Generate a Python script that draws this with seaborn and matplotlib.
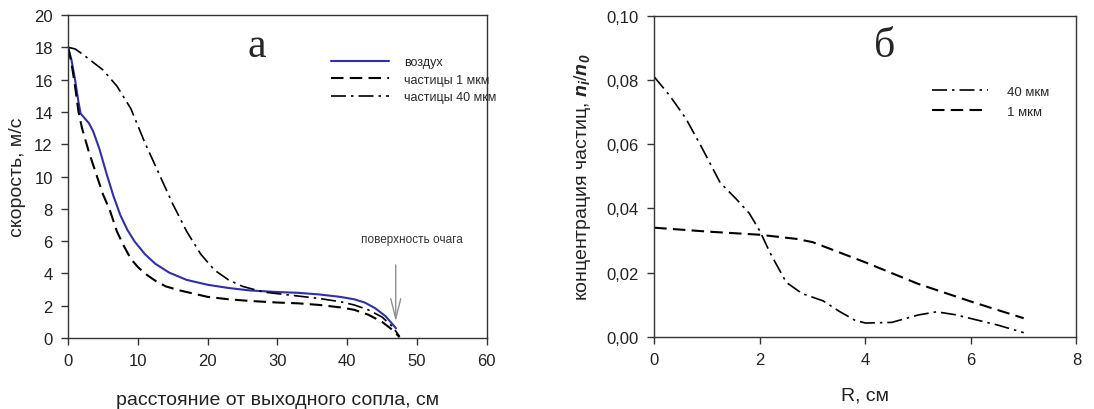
import matplotlib
matplotlib.use("Agg")
import matplotlib.pyplot as plt
import seaborn as sns
import pandas as pd

# Panel a: velocity along the jet axis
dist_air = [0, 0.5, 1.0, 1.5, 1.8, 2.4, 3.0, 3.6, 4.5, 5.5, 6.5, 7.5, 8.5, 9.5, 11, 12.5, 14.5, 17, 20, 23, 26, 30, 33, 36, 39, 41, 42.5, 44, 45.5, 47]
vel_air = [18, 17.2, 16.0, 14.6, 13.9, 13.6, 13.3, 12.8, 11.7, 10.2, 8.8, 7.6, 6.7, 6.0, 5.2, 4.6, 4.05, 3.6, 3.3, 3.1, 2.95, 2.85, 2.8, 2.7, 2.55, 2.4, 2.2, 1.85, 1.35, 0.6]

dist_fine = [0, 0.5, 1.0, 1.5, 2.0, 3.0, 4.0, 5.0, 6.0, 7.0, 8.0, 9.0, 10, 11, 12.5, 14, 16, 18, 20, 23, 26, 30, 33, 36, 39, 41, 43, 45, 46.5, 47.5]
vel_fine = [18, 17.0, 15.6, 14.0, 13.0, 11.5, 10.2, 8.9, 7.9, 6.6, 5.7, 4.9, 4.4, 4.0, 3.55, 3.2, 2.95, 2.75, 2.55, 2.4, 2.3, 2.2, 2.15, 2.05, 1.9, 1.75, 1.45, 1.0, 0.5, 0.05]

dist_coarse = [0, 1, 2, 3.5, 5, 7, 9, 11, 13, 15, 17, 19, 21, 23, 25, 28, 30, 33, 36, 39, 41, 43, 45, 46.5, 47.5]
vel_coarse = [18, 17.9, 17.6, 17.1, 16.6, 15.6, 14.2, 12.1, 10.2, 8.3, 6.6, 5.2, 4.2, 3.6, 3.2, 2.85, 2.75, 2.6, 2.45, 2.25, 2.05, 1.75, 1.3, 0.7, 0.1]

x_ticks_a = [0, 10, 20, 30, 40, 50, 60]
y_ticks_a = [0, 2, 4, 6, 8, 10, 12, 14, 16, 18, 20]

# Panel b: radial particle concentration
r_40 = [0, 0.3, 0.6, 0.9, 1.25, 1.55, 1.8, 2.0, 2.2, 2.5, 2.8, 3.2, 3.5, 3.8, 4.0, 4.5, 5.0, 5.35, 5.7, 6.0, 6.5, 7.0]
c_40 = [0.081, 0.075, 0.068, 0.059, 0.048, 0.043, 0.0385, 0.033, 0.026, 0.017, 0.0135, 0.0112, 0.008, 0.0052, 0.0043, 0.0045, 0.0068, 0.0078, 0.0069, 0.0057, 0.0037, 0.0013]

r_1 = [0, 1, 2, 2.7, 3, 4, 5, 6, 7]
c_1 = [0.034, 0.0328, 0.0318, 0.0305, 0.0295, 0.0232, 0.0165, 0.011, 0.0058]

x_ticks_b = [0, 2, 4, 6, 8]
y_ticks_b = [0.00, 0.02, 0.04, 0.06, 0.08, 0.10]

sns.set_theme(style="ticks")
plt.rcParams["font.family"] = ["Liberation Sans", "DejaVu Sans"]
plt.rcParams["mathtext.fontset"] = "custom"
plt.rcParams["mathtext.rm"] = "Liberation Sans"
plt.rcParams["mathtext.it"] = "Liberation Sans:italic"
plt.rcParams["mathtext.bf"] = "Liberation Sans:bold"
plt.rcParams["mathtext.bfit"] = "Liberation Sans:bold:italic"

fig = plt.figure(figsize=(10.94, 4.10), dpi=100)
ax1 = fig.add_axes([0.0622, 0.173, 0.3828, 0.788])
ax2 = fig.add_axes([0.598, 0.176, 0.386, 0.783])

DASH = (6, 3)
DASHDOT = (9, 3, 1.5, 3)
BLUE = "#2e2eb0"

def comma(v, _):
    return f"{v:.2f}".replace(".", ",")

# --- panel a ---
df_air = pd.DataFrame({"x": dist_air, "y": vel_air})
df_fine = pd.DataFrame({"x": dist_fine, "y": vel_fine})
df_coarse = pd.DataFrame({"x": dist_coarse, "y": vel_coarse})
sns.lineplot(data=df_air, x="x", y="y", ax=ax1, color=BLUE, lw=1.5, sort=False, label="воздух")
sns.lineplot(data=df_fine, x="x", y="y", ax=ax1, color="black", lw=1.5, sort=False, label="частицы 1 мкм")
sns.lineplot(data=df_coarse, x="x", y="y", ax=ax1, color="black", lw=1.2, sort=False, label="частицы 40 мкм")
ax1.lines[1].set_dashes(DASH)
ax1.lines[2].set_dashes(DASHDOT)

ax1.set_xlim(0, 60)
ax1.set_ylim(0, 20)
ax1.set_xticks(x_ticks_a)
ax1.set_yticks(y_ticks_a)
ax1.set_xlabel("расстояние от выходного сопла, см", fontsize=14, labelpad=16)
ax1.set_ylabel("скорость, м/с", fontsize=14, labelpad=6)
ax1.text(27, 18.1, "а", fontsize=30, family="Liberation Serif", ha="center", va="center")
ax1.annotate("", xy=(46.95, 0.85), xytext=(46.95, 4.7),
             arrowprops=dict(arrowstyle="->,head_length=1.2,head_width=0.3", color="#909090", lw=1))
ax1.text(49.3, 6.13, "поверхность очага", fontsize=8.5, ha="center", va="center", color="#333333")
ax1.legend(loc="upper left", bbox_to_anchor=(0.615, 0.888), frameon=False, fontsize=9,
           handlelength=4.7, handletextpad=1.2, labelspacing=0.45, borderaxespad=0)

# --- panel b ---
df_40 = pd.DataFrame({"x": r_40, "y": c_40})
df_1 = pd.DataFrame({"x": r_1, "y": c_1})
sns.lineplot(data=df_40, x="x", y="y", ax=ax2, color="black", lw=1.2, sort=False, label="40 мкм")
sns.lineplot(data=df_1, x="x", y="y", ax=ax2, color="black", lw=1.5, sort=False, label="1 мкм")
ax2.lines[0].set_dashes(DASHDOT)
ax2.lines[1].set_dashes(DASH)

ax2.set_xlim(0, 8)
ax2.set_ylim(0, 0.10)
ax2.set_xticks(x_ticks_b)
ax2.set_yticks(y_ticks_b)
ax2.yaxis.set_major_formatter(matplotlib.ticker.FuncFormatter(comma))
ax2.set_xlabel("R, см", fontsize=14, labelpad=14)
ax2.set_ylabel(r"концентрация частиц, $\mathbfit{n}_{\mathbfit{i}}/\mathbfit{n}_{\mathbfit{0}}$",
               fontsize=14, labelpad=10)
ax2.text(4.37, 0.0907, "б", fontsize=30, family="Liberation Serif", ha="center", va="center")
ax2.legend(loc="upper left", bbox_to_anchor=(0.646, 0.8), frameon=False, fontsize=9.5,
           handlelength=4.2, handletextpad=1.5, labelspacing=0.6, borderaxespad=0)

for ax in (ax1, ax2):
    for s in ax.spines.values():
        s.set_visible(True)
        s.set_color("#333333")
        s.set_linewidth(1.0)
    ax.tick_params(direction="out", length=5, width=1, labelsize=12, pad=6, colors="#333333",
                   labelcolor="#222222", top=False, right=False)
    ax.xaxis.label.set_color("#222222")
    ax.yaxis.label.set_color("#222222")

fig.savefig("out.png", dpi=100)
